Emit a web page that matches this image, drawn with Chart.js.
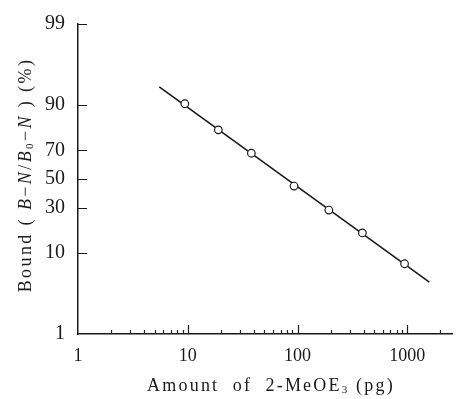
<!DOCTYPE html>
<html>
<head>
<meta charset="utf-8">
<script src="https://cdn.jsdelivr.net/npm/chart.js@4"></script>
<style>
  html, body { margin: 0; padding: 0; background: #fff; }
  #wrap { width: 458px; height: 399px; }
</style>
</head>
<body>
<div id="wrap"><canvas id="myChart"></canvas></div>
<script>
// data
const amountPg = [9.4, 19, 38, 93, 193, 390, 945];
const boundPct = [90.3, 81.1, 68.2, 44.8, 28.5, 16.8, 7.5];
// fitted line, end points
const fitAmount = [5.5, 1590];
const fitBound = [93.9, 4.5];
// ticks
const yTicks = [99, 90, 70, 50, 30, 10, 1];
const yTickMarks = [99, 90, 70, 50, 30, 10];
const xLabels = [1, 10, 100, 1000];
const xMinor = [2, 3, 4, 5, 6, 7, 8, 9, 20, 30, 40, 50, 60, 70, 80, 90, 200, 300, 400, 500, 600, 700, 800, 900, 2000];
const xMajor = [10, 100, 1000];

const INK = '#1a1a1a';
const SERIF = "'Liberation Serif', 'DejaVu Serif', serif";

// logit axis (percent), Chart.js has none built in
function logit(p) {
    const q = p / 100;
    return Math.log(q / (1 - q));
}
class LogitScale extends Chart.Scale {
    determineDataLimits() {
        this.min = this.options.min;
        this.max = this.options.max;
    }
    buildTicks() {
        return yTicks.map(v => ({ value: v }));
    }
    configure() {
        super.configure();
        this._lo = logit(this.min);
        this._hi = logit(this.max);
    }
    getLabelForValue(v) {
        return String(v);
    }
    getPixelForValue(v) {
        return this.getPixelForDecimal((logit(v) - this._lo) / (this._hi - this._lo));
    }
    getValueForPixel(px) {
        const L = this._lo + this.getDecimalForPixel(px) * (this._hi - this._lo);
        return 100 / (1 + Math.exp(-L));
    }
}
LogitScale.id = 'logit';
LogitScale.defaults = {};
Chart.register(LogitScale);

// tick marks pointing into the plot
const innerTicks = {
    id: 'innerTicks',
    afterDraw(chart) {
        const ctx = chart.ctx;
        const xs = chart.scales.x, ys = chart.scales.y;
        const area = chart.chartArea;
        ctx.save();
        ctx.strokeStyle = INK;
        ctx.lineWidth = 1.2;
        ctx.beginPath();
        yTickMarks.forEach(v => {
            const py = Math.round(ys.getPixelForValue(v)) + 0.5;
            ctx.moveTo(area.left, py);
            ctx.lineTo(area.left + 9, py);
        });
        xMinor.forEach(v => {
            const px = Math.round(xs.getPixelForValue(v)) + 0.5;
            ctx.moveTo(px, area.bottom);
            ctx.lineTo(px, area.bottom - 4);
        });
        xMajor.forEach(v => {
            const px = Math.round(xs.getPixelForValue(v)) + 0.5;
            ctx.moveTo(px, area.bottom);
            ctx.lineTo(px, area.bottom - 9);
        });
        ctx.stroke();
        ctx.restore();
    }
};

// axis titles with italic letters and subscripts
function drawRich(ctx, parts, size, spacing) {
    const fontOf = p => (p.it ? 'italic ' : '') + Math.round(p.sub ? size * 0.62 : size) + 'px ' + SERIF;
    let total = 0;
    parts.forEach(p => {
        ctx.font = fontOf(p);
        ctx.letterSpacing = spacing + 'px';
        total += ctx.measureText(p.t).width;
    });
    let x = -total / 2;
    parts.forEach(p => {
        ctx.font = fontOf(p);
        ctx.letterSpacing = spacing + 'px';
        ctx.fillText(p.t, x, p.sub ? size * 0.22 : 0);
        x += ctx.measureText(p.t).width;
    });
}
const axisTitles = {
    id: 'axisTitles',
    afterDraw(chart) {
        const ctx = chart.ctx;
        ctx.save();
        ctx.fillStyle = INK;
        ctx.textBaseline = 'middle';
        ctx.translate(26, 175);
        ctx.rotate(-Math.PI / 2);
        drawRich(ctx, [
            { t: 'Bound ( ' },
            { t: 'B', it: true }, { t: '−' }, { t: 'N', it: true }, { t: '/' },
            { t: 'B', it: true }, { t: '0', sub: true }, { t: '−' }, { t: 'N', it: true },
            { t: ' ) (%)' }
        ], 18, 2.4);
        ctx.restore();

        ctx.save();
        ctx.fillStyle = INK;
        ctx.textBaseline = 'middle';
        ctx.translate(271, 386);
        drawRich(ctx, [
            { t: 'Amount  of  2-MeOE' }, { t: '3', sub: true }, { t: ' (pg)' }
        ], 17.5, 2.2);
        ctx.restore();
    }
};

new Chart(document.getElementById('myChart'), {
    type: 'scatter',
    data: {
        datasets: [
            {
                label: 'measured',
                data: amountPg.map((a, i) => ({ x: a, y: boundPct[i] })),
                pointRadius: 3.8,
                pointBackgroundColor: '#fff',
                pointBorderColor: INK,
                pointBorderWidth: 1.2,
                showLine: false
            },
            {
                label: 'fit',
                data: fitAmount.map((a, i) => ({ x: a, y: fitBound[i] })),
                pointRadius: 0,
                borderColor: INK,
                borderWidth: 1.6,
                showLine: true
            }
        ]
    },
    options: {
        responsive: true,
        maintainAspectRatio: false,
        animation: false,
        layout: { padding: { top: 24, right: 1, left: 0, bottom: 0 } },
        plugins: {
            legend: { display: false },
            tooltip: { enabled: false }
        },
        scales: {
            x: {
                type: 'logarithmic',
                min: 1,
                max: 2600,
                grid: { display: false },
                border: { color: INK, width: 1.5 },
                afterBuildTicks: s => { s.ticks = xLabels.map(v => ({ value: v })); },
                afterFit: s => { s.height = 65; },
                ticks: {
                    autoSkip: false,
                    maxRotation: 0,
                    padding: 3,
                    color: INK,
                    font: { family: SERIF, size: 18 },
                    callback: v => String(v)
                }
            },
            y: {
                type: 'logit',
                min: 1,
                max: 99,
                grid: { display: false },
                border: { color: INK, width: 1.5 },
                afterFit: s => { s.width = 78; },
                ticks: {
                    padding: 5,
                    color: INK,
                    font: { family: SERIF, size: 20 }
                }
            }
        }
    },
    plugins: [innerTicks, axisTitles]
});
</script>
</body>
</html>
